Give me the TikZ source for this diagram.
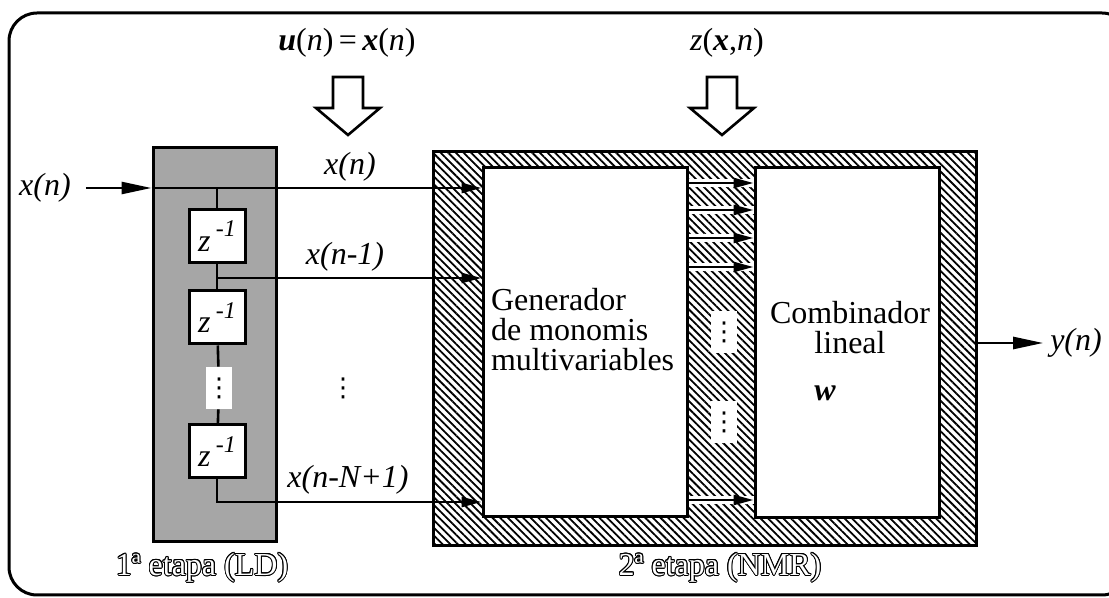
\documentclass[tikz,border=0pt]{standalone}
\usepackage{fontspec}
\setmainfont{Liberation Serif}
\newfontfamily\dotsfont{DejaVu Sans}
\usepackage[copies]{contour}
\usetikzlibrary{arrows.meta,patterns.meta}
\contourlength{0.45pt}
\newcommand\vdotsym{{\dotsfont\fontsize{13}{13}\selectfont ⋮}}

\begin{document}
\begin{tikzpicture}[x=0.5pt,y=-0.5pt,
  every node/.style={font=\fontsize{16}{15}\selectfont},
  wire/.style={line width=1.3pt},
  arr/.style={wire,-{Triangle[length=10pt,width=5pt]}},
  bigarr/.style={wire,-{Triangle[length=15pt,width=6pt]}},
  thru/.style={preaction={draw=white,line width=4pt,-}},
  stagebox/.style={draw,line width=1.5pt,inner sep=0pt},
  zbox/.style={draw,line width=1.5pt,fill=white,minimum width=28pt,minimum height=26.5pt,inner sep=0pt},
  gap/.style={fill=white,inner sep=0pt,minimum width=11pt,minimum height=21pt},
  lbl/.style={font=\fontsize{16}{15}\selectfont\itshape},
  hatch/.style={pattern={Lines[angle=-45,distance=2.7pt,line width=0.9pt]}}
]
\useasboundingbox (0,0) rectangle (1109,598);
\begin{scope}
  \clip (0,0) rectangle (1109,598);
  \draw[line width=1.5pt,rounded corners=14pt] (9,13) rectangle (1130,595);
\end{scope}

% stage boxes
\node[stagebox,fill=black!35,minimum width=61.5pt,minimum height=197pt] (ld) at (214.5,345) {};
\node[stagebox,hatch,minimum width=271.5pt,minimum height=197pt] (nmr) at (704.5,349) {};
\node[stagebox,fill=white,minimum width=102.25pt,minimum height=174.5pt] (gen) at (585.25,342.5) {};
\node[stagebox,fill=white,minimum width=92pt,minimum height=175pt] (comb) at (847,343) {};

% top inputs
\node (ulbl) at (347,43) {\textbf{\textit{u}}(\textit{n})\,=\,\textbf{\textit{x}}(\textit{n})};
\node (zlbl) at (727,43) {\textit{z}(\textbf{\textit{x}},\textit{n})};
\foreach \cx in {348,722}
  \draw[line width=1.3pt,fill=white] (\cx-15,77) -- (\cx+15,77) -- (\cx+15,108) -- (\cx+32,108)
    -- (\cx,135) -- (\cx-32,108) -- (\cx-15,108) -- cycle;

% delay line
\node[lbl] (xin) at (45,188) {x(n)};
\coordinate (t0) at (217,188);
\coordinate (t1) at (217,278);
\coordinate (t2) at (217,502);
\node[zbox] (z1) at (217,236) {\textit{z}\,\raisebox{0.45em}{\fontsize{12}{12}\selectfont\textit{-1}}};
\node[zbox] (z2) at (217,317.5) {\textit{z}\,\raisebox{0.45em}{\fontsize{12}{12}\selectfont\textit{-1}}};
\node[gap] (lddots) at (219,388) {\vdotsym};
\node[zbox] (z3) at (217,451.5) {\textit{z}\,\raisebox{0.45em}{\fontsize{12}{12}\selectfont\textit{-1}}};
\draw[bigarr,shorten <=4pt] (xin) -- (ld.west |- xin);
\draw[arr] (ld.west |- t0) -- (gen.west |- t0);
\draw[wire] (t0) -- (z1);
\draw[wire] (z1) -- (z2);
\draw[wire] (z2) -- (lddots);
\draw[wire] (lddots) -- (z3);
\draw[arr] (t1) -- (gen.west |- t1);
\draw[arr] (z3.south) |- (gen.west |- t2);

% tap labels
\node[lbl] (lx0) at (350,167) {x(n)};
\node[lbl] (lx1) at (345,257) {x(n-1)};
\node (ldots) at (343,388) {\vdotsym};
\node[lbl] (lxN) at (348,480) {x(n-N+1)};

% monomials to combiner
\foreach \yy in {183,210,238,267,500}
  \draw[arr,thru] (gen.east |- 0,\yy) -- (comb.west |- 0,\yy);
\node[gap] (mdots1) at (724,332) {\vdotsym};
\node[gap] (mdots2) at (724,422) {\vdotsym};

% texts in the blocks
\node[anchor=west,align=left] (gentext) at (484,330) {Generador\\de monomis\\multivariables};
\node[align=center] (combtext) at (850,328) {Combinador\\lineal};
\node (wlbl) at (825,393) {\textbf{\textit{w}}};

% output
\node[lbl] (yout) at (1076,343) {y(n)};
\draw[bigarr] (nmr.east |- yout) -- (yout);

% stage names
\node (ldname) at (202,568) {\color{white}\contour{black}{1ª etapa (LD)}};
\node (nmrname) at (720,568) {\color{white}\contour{black}{2ª etapa (NMR)}};
\end{tikzpicture}
\end{document}
